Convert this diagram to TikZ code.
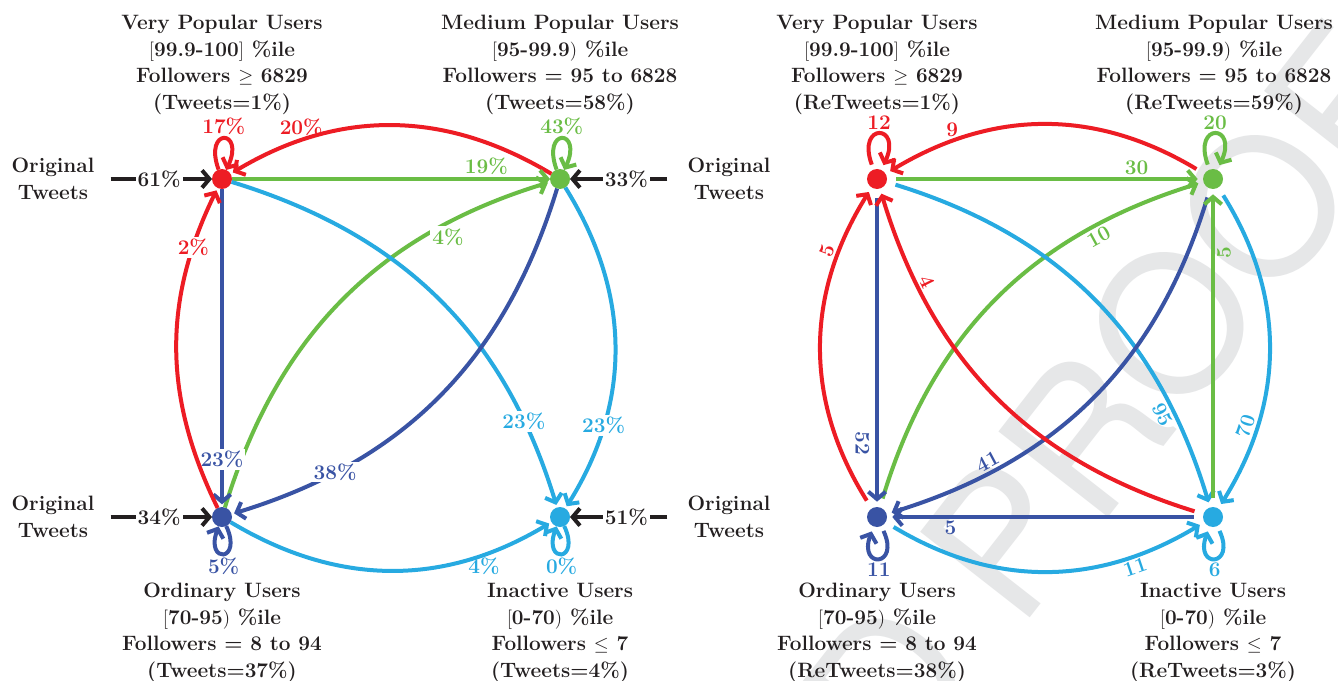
\documentclass[tikz,border=0pt]{standalone}
\usepackage{fontspec}
\newfontfamily\wmfont{TeX Gyre Heros}
\usetikzlibrary{arrows.meta}
\definecolor{cR}{RGB}{237,28,36}
\definecolor{cG}{RGB}{106,189,69}
\definecolor{cB}{RGB}{57,83,164}
\definecolor{cC}{RGB}{39,170,225}
\definecolor{cK}{RGB}{35,31,32}
\definecolor{cW}{RGB}{230,231,232}
\begin{document}
\begin{tikzpicture}[x=0.75pt,y=0.75pt,
  lf/.style={font=\bfseries\fontsize{15.6}{20}\selectfont},
  txt/.style={lf,align=center,text=cK,inner sep=0pt},
  dotL/.style={circle,fill=#1,minimum size=15pt,inner sep=0pt,outer sep=0pt},
  dotR/.style={circle,fill=#1,minimum size=15pt,inner sep=0pt,outer sep=4pt},
  e/.style={line width=3pt,-{Straight Barb[length=5.5pt,width=13pt]}},
  eR/.style={e,shorten <=3pt},
  lbl/.style={lf,inner sep=1.5pt},
  wl/.style={lbl,fill=white},
  lpa/.style={out=110,in=65,min distance=34pt},
  lpb/.style={out=-65,in=-110,min distance=30pt}]
\fill[white] (0,0) rectangle (1338,-681);
\useasboundingbox (0,0) rectangle (1338,-681);

% watermark
\begin{scope}
\clip (0,0) rectangle (1338,-681);
\node[anchor=base east,rotate=52,inner sep=0pt,text=cW,font=\wmfont\fontsize{143}{143}\selectfont] (wm) at (1435,-99) {ED PROOF};
\end{scope}

% ---------------- left diagram ----------------
\node[dotL=cR] (vp) at (222,-179) {};
\node[dotL=cG] (mp) at (560,-179) {};
\node[dotL=cB] (od) at (222,-517) {};
\node[dotL=cC] (ia) at (560,-517) {};

\node[txt] (tvp) at (222,-65) {Very Popular Users\\$[$99.9-100$]$ \%ile\\Followers $\geq$ 6829\\(Tweets=1\%)};
\node[txt] (tmp) at (560,-65) {Medium Popular Users\\$[$95-99.9$)$ \%ile\\Followers = 95 to 6828\\(Tweets=58\%)};
\node[txt] (tod) at (222,-633) {Ordinary Users\\$[$70-95$)$ \%ile\\Followers = 8 to 94\\(Tweets=37\%)};
\node[txt] (tia) at (560,-633) {Inactive Users\\$[$0-70$)$ \%ile\\Followers $\leq$ 7\\(Tweets=4\%)};

\node[txt] (o1) at (53,-179) {Original\\Tweets};
\node[txt] (o2) at (53,-517) {Original\\Tweets};
\node[txt] (o3) at (729,-179) {Original\\Tweets};
\node[txt] (o4) at (729,-517) {Original\\Tweets};

\draw[e,cK,shorten <=12pt] (o1) -- node[wl,pos=.55]{61\%} (vp);
\draw[e,cK,shorten <=12pt] (o2) -- node[wl,pos=.55]{34\%} (od);
\draw[e,cK,shorten <=15pt] (o3) -- node[wl,pos=.52]{33\%} (mp);
\draw[e,cK,shorten <=15pt] (o4) -- node[wl,pos=.52]{51\%} (ia);

\draw[e,cR] (vp) to[lpa] node[lbl,pos=.5,above]{17\%} (vp);
\draw[e,cG] (mp) to[lpa] node[lbl,pos=.5,above]{43\%} (mp);
\draw[e,cB] (od) to[lpb] node[lbl,pos=.5,below]{5\%} (od);
\draw[e,cC] (ia) to[lpb] node[lbl,pos=.5,below]{0\%} (ia);

\draw[e,cR,shorten >=2pt] (mp) to[bend right=31] node[lbl,pos=.78,above=1pt]{20\%} (vp);
\draw[e,cG] (vp) -- node[lbl,pos=.8,above]{19\%} (mp);
\draw[e,cG,shorten >=2pt] (od) to[bend left=28] node[wl,pos=.77,yshift=-8pt,xshift=4pt]{4\%} (mp);
\draw[e,cC,shorten >=2pt] (vp) to[bend left=28] node[wl,pos=.82]{23\%} (ia);
\draw[e,cC,shorten >=2pt] (mp) to[bend left=32] node[wl,pos=.74]{23\%} (ia);
\draw[e,cB,shorten >=2pt] (mp) to[bend left=28] node[wl,pos=.78]{38\%} (od);
\draw[e,cB,shorten >=2pt] (vp) -- node[wl,pos=.85]{23\%} (od);
\draw[e,cR,shorten >=2pt] (od) to[bend left=26] node[wl,pos=.82]{2\%} (vp);
\draw[e,cC,shorten >=2pt] (od) to[bend right=31] node[lbl,pos=.79,below]{4\%} (ia);

% ---------------- right diagram ----------------
\node[dotR=cR] (vp2) at (877,-179) {};
\node[dotR=cG] (mp2) at (1213,-179) {};
\node[dotR=cB] (od2) at (877,-517) {};
\node[dotR=cC] (ia2) at (1213,-517) {};

\node[txt] (tvp2) at (877,-65) {Very Popular Users\\$[$99.9-100$]$ \%ile\\Followers $\geq$ 6829\\(ReTweets=1\%)};
\node[txt] (tmp2) at (1214,-65) {Medium Popular Users\\$[$95-99.9$)$ \%ile\\Followers = 95 to 6828\\(ReTweets=59\%)};
\node[txt] (tod2) at (877,-633) {Ordinary Users\\$[$70-95$)$ \%ile\\Followers = 8 to 94\\(ReTweets=38\%)};
\node[txt] (tia2) at (1213,-633) {Inactive Users\\$[$0-70$)$ \%ile\\Followers $\leq$ 7\\(ReTweets=3\%)};

\draw[e,cR] (vp2) to[lpa] node[lbl,pos=.5,above]{12} (vp2);
\draw[e,cG] (mp2) to[lpa] node[lbl,pos=.5,above]{20} (mp2);
\draw[e,cB] (od2) to[lpb] node[lbl,pos=.5,below]{11} (od2);
\draw[e,cC] (ia2) to[lpb] node[lbl,pos=.5,below]{6} (ia2);

\draw[eR,cR] (mp2) to[bend right=31] node[lbl,pos=.8,above]{9} (vp2);
\draw[eR,cG] (vp2) -- node[lbl,pos=.8,above]{30} (mp2);
\draw[eR,cG] (od2) to[bend left=28] node[lbl,pos=.77,sloped,below]{10} (mp2);
\draw[eR,cC] (vp2) to[bend left=28] node[lbl,pos=.8,sloped,below]{95} (ia2);
\draw[eR,cC] (mp2) to[bend left=32] node[lbl,pos=.76,sloped,above]{70} (ia2);
\draw[eR,cB] (mp2) to[bend left=28] node[lbl,pos=.78,sloped,above]{41} (od2);
\draw[eR,cB] (vp2) -- node[lbl,pos=.81,xshift=-11pt,rotate=-90]{52} (od2);
\draw[eR,cR] (od2) to[bend left=32] node[lbl,pos=.8,sloped,above]{5} (vp2);
\draw[eR,cR] (ia2) to[bend left=28] node[lbl,pos=.8,sloped,above]{4} (vp2);
\draw[eR,cG] (ia2) -- node[lbl,pos=.81,sloped,below]{5} (mp2);
\draw[eR,cB] (ia2) -- node[lbl,pos=.81,below]{5} (od2);
\draw[eR,cC] (od2) to[bend right=31] node[lbl,pos=.78,sloped,below]{11} (ia2);
\end{tikzpicture}
\end{document}
